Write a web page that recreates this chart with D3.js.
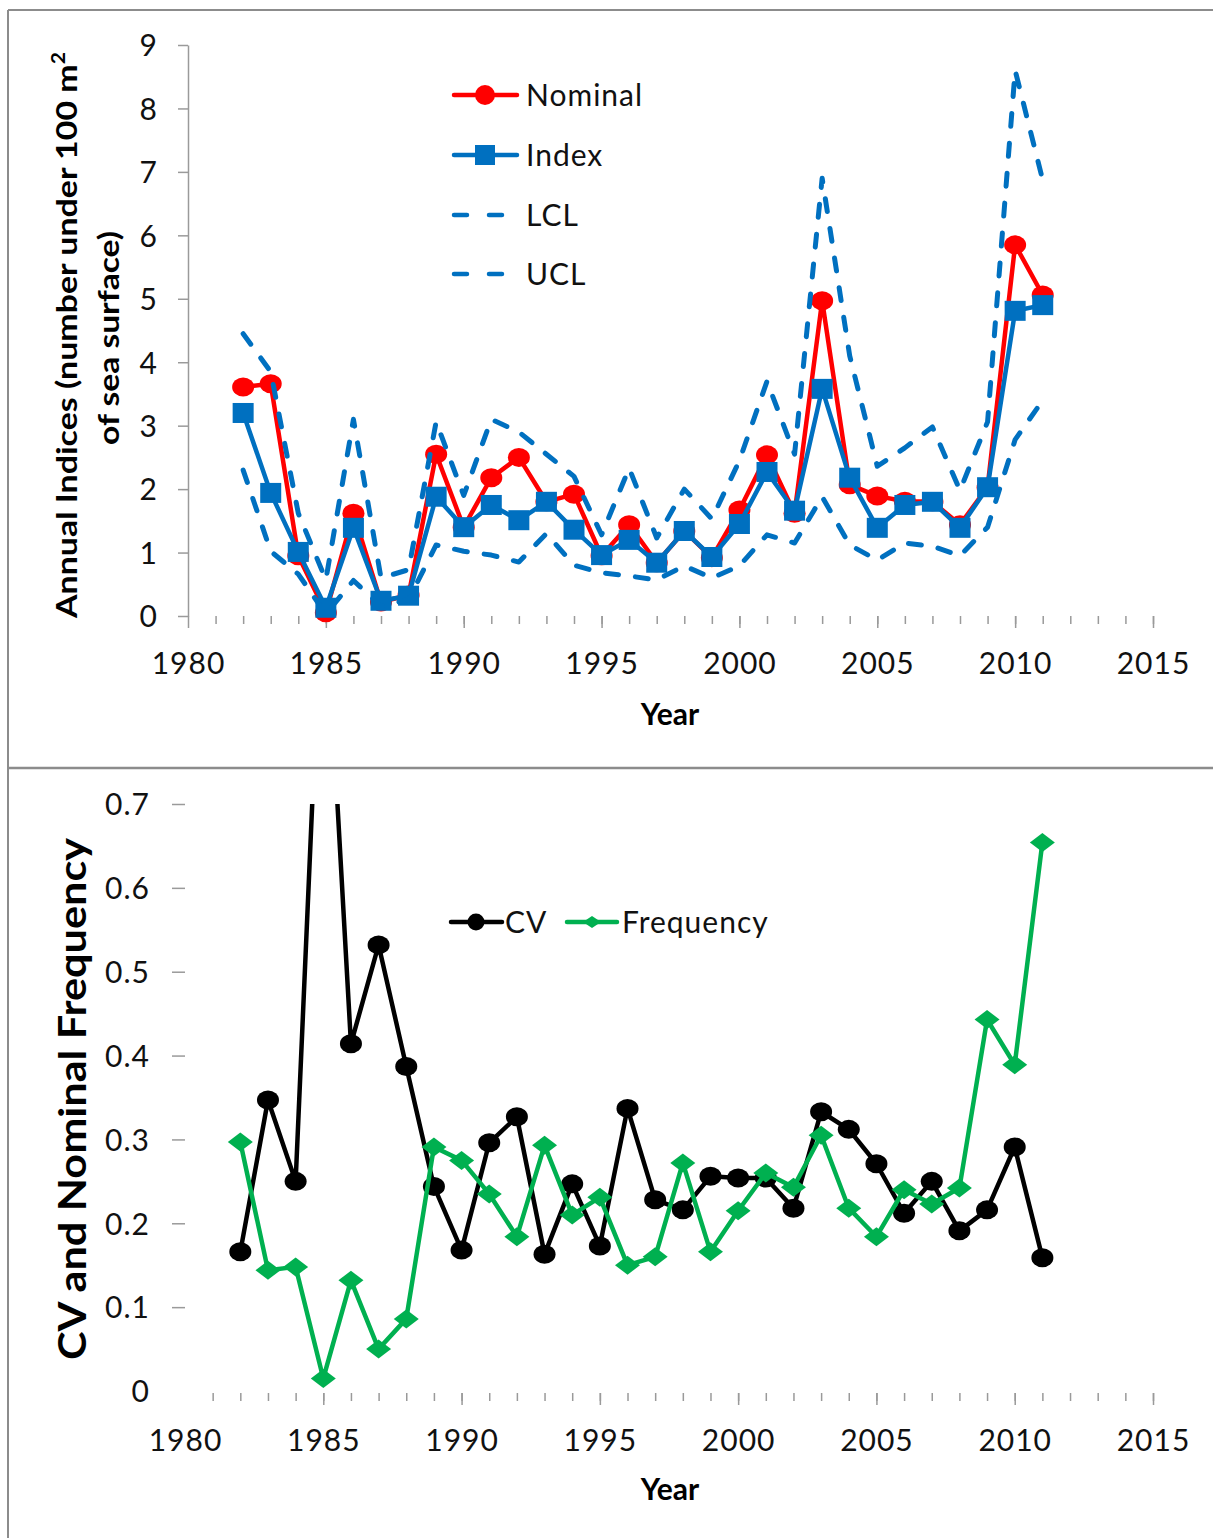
<!DOCTYPE html>
<html>
<head>
<meta charset="utf-8">
<script src="https://cdn.jsdelivr.net/npm/d3@7"></script>
<style>
  body { margin: 0; background: #fff; }
  svg { display: block; font-family: Lato, "Open Sans", sans-serif; }
  .tick text { font-family: Lato, sans-serif; font-size: 30px; fill: #111; letter-spacing: 1px; }
  .tick line { stroke: #9a9a9a; stroke-width: 1.5; }
  .domain { stroke: #9a9a9a; stroke-width: 1.5; }
  .legend text { font-size: 30px; fill: #111; letter-spacing: 1px; }
  .title { font-weight: bold; fill: #000; }
</style>
</head>
<body>
<div id="chart"></div>
<script>
// years and series
var years = [1982,1983,1984,1985,1986,1987,1988,1989,1990,1991,1992,1993,1994,1995,1996,
             1997,1998,1999,2000,2001,2002,2003,2004,2005,2006,2007,2008,2009,2010,2011];

var nominal = [3.61,3.66,0.95,0.05,1.62,0.22,0.33,2.55,1.40,2.18,2.50,1.80,1.92,0.95,1.44,
               0.84,1.34,0.92,1.67,2.54,1.62,4.97,2.07,1.89,1.81,1.80,1.44,2.03,5.85,5.06];
var index = [3.20,1.94,1.01,0.13,1.39,0.24,0.32,1.88,1.40,1.75,1.51,1.80,1.36,0.96,1.20,
             0.84,1.34,0.93,1.45,2.27,1.66,3.58,2.18,1.39,1.75,1.80,1.39,2.03,4.81,4.90];
var lcl = [2.30,1.02,0.66,0.03,0.56,0.15,0.26,1.12,1.02,0.96,0.85,1.30,0.80,0.68,0.63,
           0.57,0.79,0.60,0.79,1.28,1.15,1.88,1.12,0.88,1.15,1.10,0.95,1.40,2.78,3.40];
var ucl = [4.45,3.85,1.62,0.57,3.10,0.60,0.73,3.06,1.90,3.10,2.90,2.55,2.20,1.28,2.33,
           1.23,2.00,1.53,2.45,3.70,2.55,6.90,4.10,2.36,2.65,2.98,1.98,3.06,8.60,6.87];

var cv = [0.166,0.347,0.250,1.000,0.414,0.532,0.387,0.244,0.168,0.296,0.327,0.163,0.247,0.173,0.337,
          0.228,0.216,0.256,0.254,0.254,0.218,0.333,0.312,0.271,0.212,0.250,0.191,0.216,0.291,0.159];
var freq = [0.297,0.144,0.148,0.015,0.132,0.050,0.086,0.291,0.275,0.235,0.184,0.293,0.210,0.231,0.150,
            0.160,0.272,0.166,0.215,0.260,0.243,0.305,0.218,0.184,0.240,0.223,0.242,0.443,0.389,0.654];

var minorYears = d3.range(1981, 2016);
var majorYears = [1980,1985,1990,1995,2000,2005,2010,2015];
var topTicks = [0,1,2,3,4,5,6,7,8,9];
var botTicks = [0,0.1,0.2,0.3,0.4,0.5,0.6,0.7];

var W = 1213, H = 1538;
var svg = d3.select("#chart").append("svg")
    .attr("width", W)
    .attr("height", H);

// frame
svg.append("line").attr("x1",8).attr("y1",10).attr("x2",W).attr("y2",10).attr("stroke","#8c8c8c").attr("stroke-width",2);
svg.append("line").attr("x1",8).attr("y1",10).attr("x2",8).attr("y2",H).attr("stroke","#8c8c8c").attr("stroke-width",2);
svg.append("line").attr("x1",8).attr("y1",768).attr("x2",W).attr("y2",768).attr("stroke","#8c8c8c").attr("stroke-width",2.5);

// ---------- top chart ----------
var x1 = d3.scaleLinear().domain([1980,2015]).range([188,1153]);
var y1 = d3.scaleLinear().domain([0,9]).range([616,45]);

function xAxisG(g, x, y0, labelY, hideFirst) {
    g.append("g")
        .attr("transform","translate(0,"+y0+")")
        .call(d3.axisBottom(x).tickValues(minorYears).tickSize(8).tickFormat(""))
        .call(function(s){ s.select(".domain").remove(); });
    var maj = g.append("g")
        .attr("transform","translate(0,"+y0+")")
        .call(d3.axisBottom(x).tickValues(majorYears).tickSize(12).tickFormat(d3.format("d")));
    maj.select(".domain").remove();
    maj.selectAll("text").attr("dy",0).attr("y",labelY);
    if (hideFirst) maj.selectAll(".tick").filter(function(d){ return d === 1980; }).select("line").remove();
}

var topG = svg.append("g");
xAxisG(topG, x1, 616, 58, false);

var ya1 = topG.append("g")
    .attr("transform","translate(188,0)")
    .call(d3.axisLeft(y1).tickValues(topTicks).tickSize(10).tickSizeOuter(0).tickPadding(20));
ya1.selectAll("text").attr("dy","0.36em");

var line1 = d3.line().x(function(d){return x1(d[0]);}).y(function(d){return y1(d[1]);});
function pairs(vals){ return years.map(function(yr,i){ return [yr, vals[i]]; }); }

topG.append("path").attr("d", line1(pairs(nominal)))
    .attr("fill","none").attr("stroke","#ff0000").attr("stroke-width",4.5).attr("stroke-linejoin","round");
topG.selectAll(".nom").data(pairs(nominal)).enter().append("ellipse")
    .attr("cx",function(d){return x1(d[0]);}).attr("cy",function(d){return y1(d[1]);})
    .attr("rx",11).attr("ry",9.5).attr("fill","#ff0000");

topG.append("path").attr("d", line1(pairs(index)))
    .attr("fill","none").attr("stroke","#0070c0").attr("stroke-width",4.5).attr("stroke-linejoin","round");
topG.selectAll(".idx").data(pairs(index)).enter().append("rect")
    .attr("x",function(d){return x1(d[0])-10.5;}).attr("y",function(d){return y1(d[1])-10;})
    .attr("width",21).attr("height",20).attr("fill","#0070c0");

[lcl, ucl].forEach(function(s){
    topG.append("path").attr("d", line1(pairs(s)))
        .attr("fill","none").attr("stroke","#0070c0").attr("stroke-width",5)
        .attr("stroke-dasharray","13,17").attr("stroke-linecap","round").attr("stroke-linejoin","round");
});

// y title (top)
var t1 = topG.append("text").attr("class","title")
    .attr("transform","translate(77,335) rotate(-90)")
    .attr("text-anchor","middle").attr("font-size",29)
    .attr("textLength",566).attr("lengthAdjust","spacingAndGlyphs");
t1.append("tspan").text("Annual Indices (number under 100 m");
t1.append("tspan").attr("font-size",18).attr("dy",-12).text("2");
topG.append("text").attr("class","title")
    .attr("transform","translate(119,338) rotate(-90)")
    .attr("text-anchor","middle").attr("font-size",29)
    .attr("textLength",214).attr("lengthAdjust","spacingAndGlyphs")
    .text("of sea surface)");
topG.append("text").attr("class","title")
    .attr("x",670).attr("y",725).attr("text-anchor","middle").attr("font-size",30)
    .text("Year");

// legend (top)
var leg1 = topG.append("g").attr("class","legend");
var legItems = [
    {name:"Nominal", color:"#ff0000", mark:"circle", dash:null, y:95},
    {name:"Index", color:"#0070c0", mark:"square", dash:null, y:155},
    {name:"LCL", color:"#0070c0", mark:null, dash:"13,22", y:215},
    {name:"UCL", color:"#0070c0", mark:null, dash:"13,22", y:274}
];
legItems.forEach(function(it){
    var g = leg1.append("g");
    g.append("line").attr("x1",454).attr("x2",517).attr("y1",it.y).attr("y2",it.y)
        .attr("stroke",it.color).attr("stroke-width",4.5)
        .attr("stroke-dasharray",it.dash).attr("stroke-linecap","round");
    if (it.mark === "circle") g.append("circle").attr("cx",485).attr("cy",it.y).attr("r",10).attr("fill",it.color);
    if (it.mark === "square") g.append("rect").attr("x",475).attr("y",it.y-10).attr("width",20).attr("height",20).attr("fill",it.color);
    g.append("text").attr("x",526).attr("y",it.y+11).text(it.name);
});

// ---------- bottom chart ----------
var x2 = d3.scaleLinear().domain([1980,2015]).range([185,1153]);
var y2 = d3.scaleLinear().domain([0,0.7]).range([1391,804]);

var botG = svg.append("g");
xAxisG(botG, x2, 1393, 58, true);

var ya2 = botG.append("g")
    .attr("transform","translate(185,0)")
    .call(d3.axisLeft(y2).tickValues(botTicks).tickSize(13).tickPadding(22)
        .tickFormat(function(d){ return d === 0 ? "0" : d3.format(".1f")(d); }));
ya2.select(".domain").remove();
ya2.selectAll(".tick").filter(function(d){ return d === 0; }).select("line").remove();
ya2.selectAll("text").attr("dy","0.36em");

svg.append("clipPath").attr("id","clip2")
    .append("rect").attr("x",150).attr("y",804).attr("width",1063).attr("height",620);

var plot2 = botG.append("g").attr("clip-path","url(#clip2)");
var line2 = d3.line().x(function(d){return x2(d[0]);}).y(function(d){return y2(d[1]);});

plot2.append("path").attr("d", line2(pairs(cv)))
    .attr("fill","none").attr("stroke","#000").attr("stroke-width",4.5).attr("stroke-linejoin","round");
plot2.selectAll(".cv").data(pairs(cv)).enter().append("ellipse")
    .attr("cx",function(d){return x2(d[0]);}).attr("cy",function(d){return y2(d[1]);})
    .attr("rx",11).attr("ry",9.5).attr("fill","#000");

plot2.append("path").attr("d", line2(pairs(freq)))
    .attr("fill","none").attr("stroke","#00b050").attr("stroke-width",4.5).attr("stroke-linejoin","round");
plot2.selectAll(".fq").data(pairs(freq)).enter().append("path")
    .attr("transform",function(d){ return "translate("+x2(d[0])+","+y2(d[1])+")"; })
    .attr("d","M-12.5,0L0,-9.5L12.5,0L0,9.5Z").attr("fill","#00b050");

botG.append("text").attr("class","title")
    .attr("transform","translate(86,1099) rotate(-90)")
    .attr("text-anchor","middle").attr("font-size",38)
    .attr("textLength",522).attr("lengthAdjust","spacingAndGlyphs")
    .text("CV and Nominal Frequency");
botG.append("text").attr("class","title")
    .attr("x",670).attr("y",1500).attr("text-anchor","middle").attr("font-size",30)
    .text("Year");

// legend (bottom)
var leg2 = botG.append("g").attr("class","legend");
leg2.append("line").attr("x1",451).attr("x2",502).attr("y1",922).attr("y2",922)
    .attr("stroke","#000").attr("stroke-width",4.5).attr("stroke-linecap","round");
leg2.append("circle").attr("cx",476).attr("cy",922).attr("r",8.5).attr("fill","#000");
leg2.append("text").attr("x",505).attr("y",933).text("CV");
leg2.append("line").attr("x1",567).attr("x2",617).attr("y1",922).attr("y2",922)
    .attr("stroke","#00b050").attr("stroke-width",4.5).attr("stroke-linecap","round");
leg2.append("path").attr("transform","translate(592,922)").attr("d","M-9,0L0,-6L9,0L0,6Z").attr("fill","#00b050");
leg2.append("text").attr("x",622).attr("y",933).text("Frequency");
</script>
</body>
</html>
